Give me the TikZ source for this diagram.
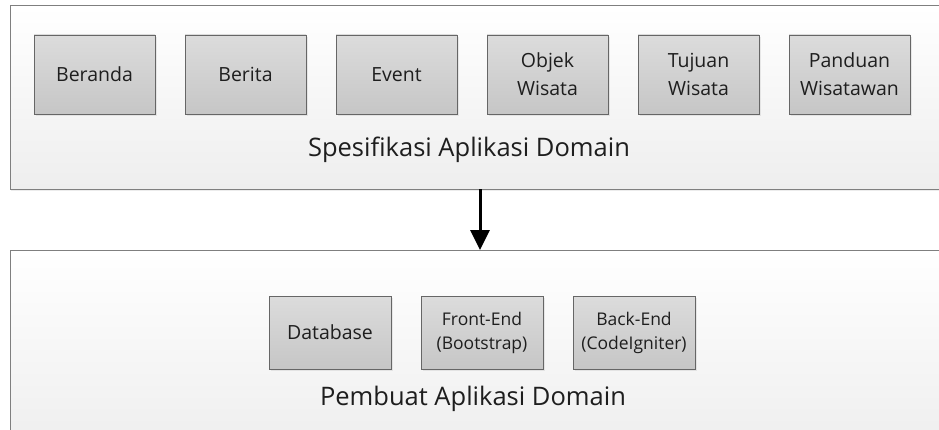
\documentclass[tikz,border=0pt]{standalone}
\usepackage{fontspec}
\setmainfont{Open Sans}
\usetikzlibrary{positioning,arrows.meta,shadows}

\definecolor{edge}{HTML}{7F7F7F}
\definecolor{boxtop}{HTML}{DCDCDC}
\definecolor{boxbot}{HTML}{C6C6C6}
\definecolor{panelbot}{HTML}{EEEEEE}
\definecolor{ink}{HTML}{1E1E1E}

\begin{document}
\begin{tikzpicture}[x = 1pt, y = 1pt, node distance = 30pt,
    panel/.style = {draw = edge, line width = 1pt, top color = white, bottom color = panelbot,
        minimum width = 940pt, inner sep = 0pt, outer sep = 0pt,
        drop shadow = {shadow xshift = 1pt, shadow yshift = -1.5pt, opacity = .15}},
    part/.style = {draw = edge!80!black, line width = .8pt, top color = boxtop, bottom color = boxbot,
        text = ink, align = center, font = \fontsize{19.5}{28}\selectfont,
        minimum width = 121pt, minimum height = 79pt, inner sep = 0pt, outer sep = 0pt,
        drop shadow = {shadow xshift = 2pt, shadow yshift = -2pt, opacity = .15}},
    small/.style = {minimum width = 122pt, minimum height = 73pt, font = \fontsize{17.5}{24}\selectfont},
    title/.style = {text = ink, anchor = base, font = \fontsize{25.5}{30}\selectfont}]
    \useasboundingbox (0,0) rectangle (939,429);
    \clip (0,0) rectangle (939,429);

    % the two layers
    \node[panel, minimum height = 183pt] (spec) at (480,331.5) {};
    \node[panel, minimum height = 200pt] (make) at (480,79) {};

    % page modules
    \node[part] (beranda) at (94.5,354.5) {Beranda};
    \node[part, right = of beranda] (berita) {Berita};
    \node[part, right = of berita] (event) {Event};
    \node[part, right = of event] (objek) {Objek\\Wisata};
    \node[part, right = of objek] (tujuan) {Tujuan\\Wisata};
    \node[part, right = of tujuan] (panduan) {Panduan\\Wisatawan};
    \node[title] (spectitle) at (469,272) {Spesifikasi Aplikasi Domain};

    % building blocks
    \node[part, small, font = \fontsize{19.5}{28}\selectfont] (database) at (330,96.5) {Database};
    \node[part, small, right = of database] (frontend) {Front-End\\(Bootstrap)};
    \node[part, small, right = of frontend] (backend) {Back-End\\(CodeIgniter)};
    \node[title] (maketitle) at (473,24) {Pembuat Aplikasi Domain};

    \draw[line width = 3pt, -{Triangle[width = 19pt, length = 20pt]}] (spec) -- (make);
\end{tikzpicture}
\end{document}
